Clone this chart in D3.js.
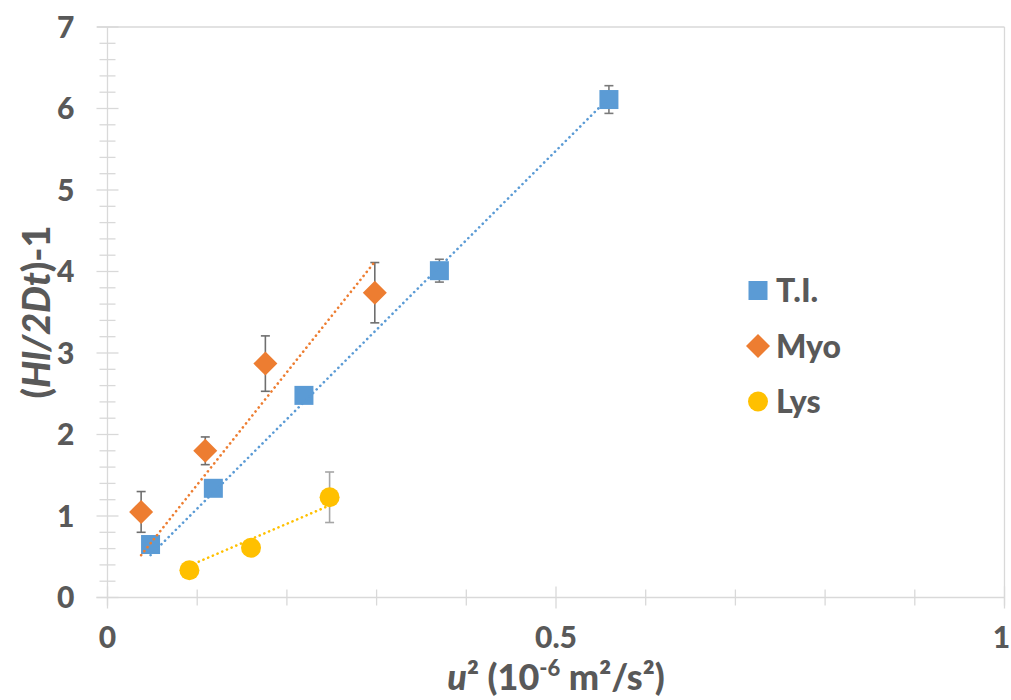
<!DOCTYPE html>
<html><head><meta charset="utf-8">
<script src="https://cdn.jsdelivr.net/npm/d3@7"></script>
<style>body{margin:0;background:#fff}svg{display:block}</style>
</head><body><svg id="c" width="1011" height="700"></svg>
<script>
// Data
const seriesNames = ["T.I.", "Myo", "Lys"];
const tiX = [0.048, 0.118, 0.219, 0.370, 0.559];
const tiY = [0.65, 1.34, 2.48, 4.01, 6.11];
const tiErr = [0.05, 0.05, 0.03, 0.14, 0.17];
const myoX = [0.0375, 0.109, 0.176, 0.298];
const myoY = [1.05, 1.80, 2.87, 3.74];
const myoErr = [0.25, 0.17, 0.34, 0.37];
const lysX = [0.0913, 0.160, 0.2476];
const lysY = [0.335, 0.61, 1.23];
const lysErr = [0, 0, 0.31];
// Trend line endpoints [x0, x1], [y0, y1]
const tiTrendX = [0.048, 0.559], tiTrendY = [0.52, 6.13];
const myoTrendX = [0.0375, 0.298], myoTrendY = [0.52, 4.12];
const lysTrendX = [0.0913, 0.2476], lysTrendY = [0.39, 1.13];
const xTickLabels = [0, 0.5, 1];
const yTickLabels = [0, 1, 2, 3, 4, 5, 6, 7];

const colors = {"T.I.": "#5B9BD5", "Myo": "#ED7D31", "Lys": "#FFC000"};
const errColors = {"T.I.": "#7a7a7a", "Myo": "#6f6f6f", "Lys": "#a6a6a6"};
const textColor = "#595959";
const axisColor = "#d9d9d9";
const FONT = "Lato, 'Open Sans', sans-serif";

const svg = d3.select("#c");
const x = d3.scaleLinear().domain([0, 1]).range([107.5, 1004.5]);
const y = d3.scaleLinear().domain([0, 7]).range([597.5, 27]);

// Frame lines (top and right)
svg.append("line").attr("x1", 97).attr("x2", x(1)).attr("y1", y(7)).attr("y2", y(7))
  .attr("stroke", axisColor).attr("stroke-width", 1.3);
svg.append("line").attr("x1", x(1)).attr("x2", x(1)).attr("y1", y(7)).attr("y2", y(0) + 8)
  .attr("stroke", axisColor).attr("stroke-width", 1.3);

// Y axis: major every 1, minor every 0.2 (crossing ticks)
const yMinor = d3.range(0, 7.0001, 0.2).map(v => +v.toFixed(1));
const gy = svg.append("g");
gy.append("line").attr("x1", x(0)).attr("x2", x(0)).attr("y1", y(7)).attr("y2", y(0) + 8)
  .attr("stroke", axisColor).attr("stroke-width", 1.3);
gy.selectAll("line.minor").data(yMinor).join("line").attr("class", "minor")
  .attr("x1", d => Number.isInteger(d) ? x(0) - 11 : x(0) - 8)
  .attr("x2", d => Number.isInteger(d) ? x(0) + 11 : x(0) + 8)
  .attr("y1", d => y(d)).attr("y2", d => y(d))
  .attr("stroke", axisColor).attr("stroke-width", 1.3);
gy.selectAll("text").data(yTickLabels).join("text")
  .attr("x", x(0) - 33).attr("y", d => y(d)).attr("dy", "0.36em")
  .attr("text-anchor", "end").attr("fill", textColor)
  .attr("font-family", FONT).attr("font-weight", "900").attr("font-size", 30)
  .text(d => d);

// X axis: minor every 0.1, major at labels
const xMinor = d3.range(0, 1.0001, 0.1).map(v => +v.toFixed(1));
const gx = svg.append("g");
gx.append("line").attr("x1", x(0) - 11).attr("x2", x(1)).attr("y1", y(0)).attr("y2", y(0))
  .attr("stroke", axisColor).attr("stroke-width", 1.3);
gx.selectAll("line.t").data(xMinor).join("line").attr("class", "t")
  .attr("x1", d => x(d)).attr("x2", d => x(d))
  .attr("y1", d => xTickLabels.includes(d) ? y(0) - 11 : y(0) - 8)
  .attr("y2", d => xTickLabels.includes(d) ? y(0) + 11 : y(0) + 8)
  .attr("stroke", axisColor).attr("stroke-width", 1.3);
gx.selectAll("text").data(xTickLabels).join("text")
  .attr("x", d => d === 1 ? x(d) - 3 : x(d)).attr("y", 648)
  .attr("text-anchor", "middle").attr("fill", textColor)
  .attr("font-family", FONT).attr("font-weight", "900").attr("font-size", 30)
  .text(d => d);

// Axis titles
const xt = svg.append("text").attr("x", 556).attr("y", 690).attr("text-anchor", "middle")
  .attr("fill", textColor).attr("font-family", FONT).attr("font-weight", "900").attr("font-size", 36);
xt.append("tspan").attr("font-style", "italic").text("u");
xt.append("tspan").text("² (10");
xt.append("tspan").attr("font-size", 22).attr("dy", -14).text("-6");
xt.append("tspan").attr("dy", 14).text(" m²/s²)");

const yt = svg.append("text").attr("transform", "translate(50,312) rotate(-90)")
  .attr("text-anchor", "middle").attr("fill", textColor)
  .attr("font-family", FONT).attr("font-weight", "900").attr("font-size", 38);
yt.append("tspan").text("(");
yt.append("tspan").attr("font-style", "italic").text("Hl/2Dt");
yt.append("tspan").text(")-1");

// Build series
const series = [
  {name: "T.I.", xs: tiX, ys: tiY, err: tiErr, tx: tiTrendX, ty: tiTrendY, shape: "square"},
  {name: "Myo", xs: myoX, ys: myoY, err: myoErr, tx: myoTrendX, ty: myoTrendY, shape: "diamond"},
  {name: "Lys", xs: lysX, ys: lysY, err: lysErr, tx: lysTrendX, ty: lysTrendY, shape: "circle"}
];

// Error bars
series.forEach(s => {
  const pts = s.xs.map((v, i) => ({x: v, y: s.ys[i], e: s.err[i]})).filter(p => p.e > 0);
  const g = svg.append("g").attr("stroke", errColors[s.name]).attr("stroke-width", 1.6);
  pts.forEach(p => {
    g.append("line").attr("x1", x(p.x)).attr("x2", x(p.x)).attr("y1", y(p.y - p.e)).attr("y2", y(p.y + p.e));
    g.append("line").attr("x1", x(p.x) - 4.5).attr("x2", x(p.x) + 4.5).attr("y1", y(p.y + p.e)).attr("y2", y(p.y + p.e));
    g.append("line").attr("x1", x(p.x) - 4.5).attr("x2", x(p.x) + 4.5).attr("y1", y(p.y - p.e)).attr("y2", y(p.y - p.e));
  });
});

function marker(sel, shape, color) {
  if (shape === "square") {
    sel.append("rect").attr("x", -9.5).attr("y", -9.5).attr("width", 19).attr("height", 19).attr("fill", color);
  } else if (shape === "diamond") {
    sel.append("path").attr("d", "M0,-12L12,0L0,12L-12,0Z").attr("fill", color);
  } else {
    sel.append("circle").attr("r", 10).attr("fill", color);
  }
}

// Markers
series.forEach(s => {
  s.xs.forEach((v, i) => {
    const g = svg.append("g").attr("transform", `translate(${x(v)},${y(s.ys[i])})`);
    marker(g, s.shape, colors[s.name]);
  });
});

// Trend lines (dotted), drawn on top
const line = d3.line().x(d => x(d[0])).y(d => y(d[1]));
series.forEach(s => {
  svg.append("path").attr("d", line(s.tx.map((v, i) => [v, s.ty[i]])))
    .attr("fill", "none").attr("stroke", colors[s.name]).attr("stroke-width", 2.6)
    .attr("stroke-linecap", "round").attr("stroke-dasharray", "0.1 5");
});

// Legend
const legY = [290.5, 346, 401.5];
series.forEach((s, i) => {
  const g = svg.append("g").attr("transform", `translate(758,${legY[i]})`);
  marker(g, s.shape, colors[s.name]);
  g.append("text").attr("x", 18).attr("dy", "0.36em").attr("fill", textColor)
    .attr("font-family", FONT).attr("font-weight", "900").attr("font-size", 32).text(s.name);
});
</script></body></html>
